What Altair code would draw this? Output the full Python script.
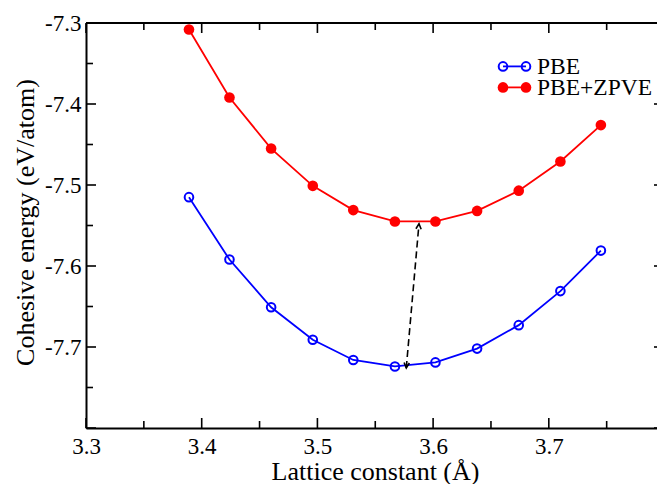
import altair as alt
import pandas as pd

# ---- data ----
lattice = [3.389, 3.424, 3.460, 3.496, 3.531, 3.567, 3.602, 3.638, 3.674, 3.710, 3.745]
pbe = [-7.515, -7.592, -7.651, -7.691, -7.716, -7.724, -7.719, -7.702, -7.673, -7.631, -7.581]
pbe_zpve = [-7.308, -7.392, -7.455, -7.501, -7.531, -7.545, -7.545, -7.532, -7.507, -7.471, -7.426]

x_labels = [3.3, 3.4, 3.5, 3.6, 3.7]
x_major = [3.3, 3.4, 3.5, 3.6, 3.7, 3.8]
x_minor = [3.35, 3.45, 3.55, 3.65, 3.75]
y_labels = [-7.3, -7.4, -7.5, -7.6, -7.7]
y_major = [-7.3, -7.4, -7.5, -7.6, -7.7, -7.8]
y_minor = [-7.35, -7.45, -7.55, -7.65, -7.75]

arrow_x = [3.5768, 3.5878]
arrow_y = [-7.7259, -7.5478]
arrow_angle = [185, 5]

series_names = ["PBE", "PBE+ZPVE"]
series_colors = ["#0000ff", "#ff0000"]

# ---- layout ----
W, H = 571, 405
FONT = "Liberation Serif"
xs = alt.Scale(domain=[3.3, 3.7935], nice=False, zero=False)
ys = alt.Scale(domain=[-7.8, -7.3], nice=False, zero=False)

xaxis = alt.Axis(
    values=x_labels, labelExpr="format(datum.value, '.1f')",
    title="Lattice constant (Å)", ticks=False, grid=False,
    domain=True, domainColor="black", domainWidth=2,
    labelFont=FONT, labelFontSize=23, labelColor="black", labelPadding=7,
    labelFlush=False, labelOverlap=False,
    titleFont=FONT, titleFontSize=26, titleFontWeight="normal", titleColor="black",
    titleX=289, titleY=51, titleBaseline="alphabetic", titleAlign="center",
)
yaxis = alt.Axis(
    values=y_labels, labelExpr="'-' + format(abs(datum.value), '.1f')",
    title="Cohesive energy (eV/atom)", ticks=False, grid=False,
    domain=True, domainColor="black", domainWidth=2,
    labelFont=FONT, labelFontSize=23, labelColor="black", labelPadding=5,
    labelFlush=False, labelOverlap=False,
    titleFont=FONT, titleFontSize=26, titleFontWeight="normal", titleColor="black",
    titleX=-53, titleY=199, titleBaseline="alphabetic", titleAlign="center", titleAngle=270,
)


def X():
    return alt.X("a:Q", scale=xs, axis=xaxis)


def Y():
    return alt.Y("e:Q", scale=ys, axis=yaxis)


pbe_df = pd.DataFrame({"a": lattice, "e": pbe})
zp_df = pd.DataFrame({"a": lattice, "e": pbe_zpve})

layers = []

# frame top line
one = pd.DataFrame({"k": [0]})
layers.append(alt.Chart(one).mark_rule(color="black", strokeWidth=2).encode(
    x=alt.value(0), x2=alt.value(W + 10), y=alt.value(0)))

# inward ticks
xM = pd.DataFrame({"a": x_major})
xm = pd.DataFrame({"a": x_minor})
yM = pd.DataFrame({"e": y_major})
ym = pd.DataFrame({"e": y_minor})
tick_style = dict(color="black", strokeWidth=1.6)
layers += [
    alt.Chart(xM).mark_rule(**tick_style).encode(x=X(), y=alt.value(H), y2=alt.value(H - 10)),
    alt.Chart(xm).mark_rule(**tick_style).encode(x=X(), y=alt.value(H), y2=alt.value(H - 7)),
    alt.Chart(xM).mark_rule(**tick_style).encode(x=X(), y=alt.value(0), y2=alt.value(10)),
    alt.Chart(xm).mark_rule(**tick_style).encode(x=X(), y=alt.value(0), y2=alt.value(7)),
    alt.Chart(yM).mark_rule(**tick_style).encode(y=Y(), x=alt.value(0), x2=alt.value(10)),
    alt.Chart(ym).mark_rule(**tick_style).encode(y=Y(), x=alt.value(0), x2=alt.value(7)),
    alt.Chart(yM).mark_rule(**tick_style).encode(y=Y(), x=alt.value(W + 7), x2=alt.value(W - 3)),
    alt.Chart(ym).mark_rule(**tick_style).encode(y=Y(), x=alt.value(W + 7), x2=alt.value(W)),
]

# data series
layers += [
    alt.Chart(pbe_df).mark_line(color="#0000ff", strokeWidth=1.8).encode(x=X(), y=Y()),
    alt.Chart(pbe_df).mark_point(color="#0000ff", filled=False, size=74, strokeWidth=2, opacity=1).encode(x=X(), y=Y()),
    alt.Chart(zp_df).mark_line(color="#ff0000", strokeWidth=1.8).encode(x=X(), y=Y()),
    alt.Chart(zp_df).mark_point(color="#ff0000", filled=True, size=113, opacity=1).encode(x=X(), y=Y()),
]

# dashed double arrow
arr_df = pd.DataFrame({"a": arrow_x, "e": arrow_y, "ang": arrow_angle})
layers += [
    alt.Chart(arr_df).mark_line(color="black", strokeWidth=1.6, strokeDash=[7, 4]).encode(x=X(), y=Y()),
    alt.Chart(arr_df).mark_point(shape="M -0.5 1 L 0 0 L 0.5 1", filled=False, color="black",
                                 strokeWidth=1.6, size=110, opacity=1).encode(
        x=X(), y=Y(), angle=alt.Angle("ang:Q", scale=None)),
]

# manual legend
leg_sym_y = [43.4, 64.4]
leg_txt_y = [50.7, 72.4]
for i, name in enumerate(series_names):
    c = series_colors[i]
    d = pd.DataFrame({"label": [name]})
    layers.append(alt.Chart(d).mark_rule(color=c, strokeWidth=1.8).encode(
        x=alt.value(417), x2=alt.value(440), y=alt.value(leg_sym_y[i])))
    for px in (417, 440):
        if i == 0:
            layers.append(alt.Chart(d).mark_point(color=c, filled=False, size=74, strokeWidth=2, opacity=1).encode(
                x=alt.value(px), y=alt.value(leg_sym_y[i])))
        else:
            layers.append(alt.Chart(d).mark_point(color=c, filled=True, size=113, opacity=1).encode(
                x=alt.value(px), y=alt.value(leg_sym_y[i])))
    layers.append(alt.Chart(d).mark_text(font=FONT, fontSize=23.5, color="black", align="left",
                                         baseline="alphabetic").encode(
        x=alt.value(451), y=alt.value(leg_txt_y[i]), text="label:N"))

chart = alt.layer(*layers).properties(
    width=W, height=H,
    padding={"left": 86, "top": 23, "right": 0, "bottom": 56},
    autosize=alt.AutoSizeParams(type="none"),
    background="white",
).configure_view(stroke="transparent")

chart.save("out.html", embed_options={"renderer": "svg", "actions": False})
